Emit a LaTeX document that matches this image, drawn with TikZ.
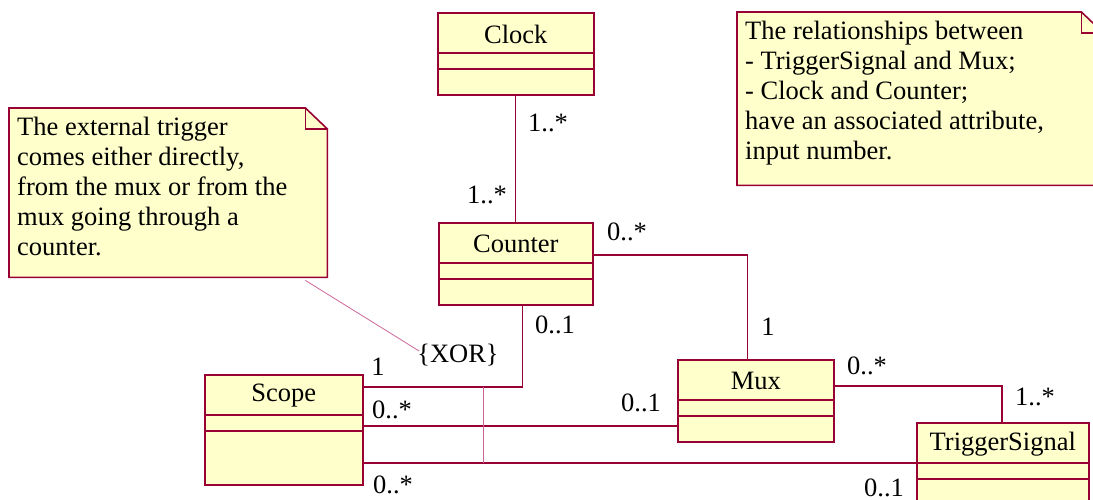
\documentclass[tikz,border=0pt]{standalone}
\usepackage{fontspec}
\setmainfont{Liberation Serif}
\usetikzlibrary{calc}
\definecolor{roseline}{RGB}{153,0,51}
\definecolor{rosefill}{RGB}{255,255,204}
\definecolor{roselink}{RGB}{204,102,153}
\newcommand{\rosefont}{\fontsize{26.5}{30}\selectfont}

\begin{document}
\begin{tikzpicture}[x=1pt,y=-1pt,
  classbox/.style={draw=roseline,fill=rosefill,line width=1.6pt,anchor=north west,inner sep=0pt},
  compartment/.style={draw=roseline,line width=1.6pt},
  assoc/.style={draw=roseline,line width=1.2pt},
  notelink/.style={draw=roselink,line width=0.8pt},
  mult/.style={font=\rosefont,inner sep=0pt},
  notetext/.style={font=\rosefont,align=left,anchor=north west,inner sep=0pt}]
  \useasboundingbox[fill=white] (0,0) rectangle (1093,500);

  % notes with a folded corner
  \node[anchor=north west,minimum width=318,minimum height=169,inner sep=0pt] (lnote) at (9,108) {};
  \node[anchor=north west,minimum width=366,minimum height=173,inner sep=0pt] (rnote) at (737,12) {};
  \foreach \n in {lnote,rnote} {
    \draw[classbox] (\n.north west) -- ($(\n.north east)+(-22,0)$) -- ($(\n.north east)+(0,21)$)
      -- (\n.south east) -- (\n.south west) -- cycle;
    \draw[compartment] ($(\n.north east)+(-22,0)$) -- ($(\n.north east)+(-22,21)$) -- ($(\n.north east)+(0,21)$);
  }
  \node[notetext] (lnote-text) at (17,117) {The external trigger\\comes either directly,\\from the mux or from the\\mux going through a\\counter.};
  \node[notetext] (rnote-text) at (745,21) {The relationships between\\- TriggerSignal and Mux;\\- Clock and Counter;\\have an associated attribute,\\input number.};

  % classes
  \node[classbox,minimum width=156,minimum height=82] (clock) at (437,12) {};
  \node[classbox,minimum width=154,minimum height=82] (counter) at (438,222) {};
  \node[classbox,minimum width=156,minimum height=82] (mux) at (677,359) {};
  \node[classbox,minimum width=158,minimum height=110] (scope) at (204,374) {};
  \node[classbox,minimum width=172,minimum height=90] (trig) at (916,422) {};
  \foreach \c/\t in {clock/Clock,counter/Counter,mux/Mux,scope/Scope,trig/TriggerSignal} {
    \node[mult] (\c-name) at ($(\c.north)+(0,22)$) {\t};
    \draw[compartment] ($(\c.north west)+(0,41)$) -- ($(\c.north east)+(0,41)$);
    \draw[compartment] ($(\c.north west)+(0,57)$) -- ($(\c.north east)+(0,57)$);
  }

  % associations
  \draw[assoc] (clock.south) -- (counter.north);
  \draw[assoc] ($(counter.north east)+(0,33)$) -| ($(mux.north)+(-8,0)$);
  \draw[assoc] ($(mux.north east)+(0,27)$) -| ($(trig.north west)+(86,0)$);
  \coordinate (sa) at ($(scope.north east)+(0,13)$);
  \draw[assoc] (sa) -| ($(counter.south)+(7,0)$);
  \draw[assoc] ($(scope.north east)+(0,52)$) -- ($(mux.north west)+(0,67)$);
  \draw[assoc] ($(scope.north east)+(0,89)$) -- coordinate[pos=0.2166] (sb) ($(trig.north west)+(0,41)$);

  % xor constraint
  \draw[notelink] (sb) -- (sb |- sa);
  \node[mult] (xor) at (458,355) {\{XOR\}};
  \draw[notelink] ($(lnote.south east)+(-22,3)$) -- ($(xor.west)+(2,-4)$);

  % multiplicities
  \node[mult] (m-clock) at (548,123) {1..*};
  \node[mult] (m-counter-up) at (487,195) {1..*};
  \node[mult] (m-counter-right) at (627,232) {0..*};
  \node[mult] (m-mux-up) at (768,327) {1};
  \node[mult] (m-counter-down) at (555,325) {0..1};
  \node[mult] (m-scope-a) at (378,367) {1};
  \node[mult] (m-scope-b) at (392,410) {0..*};
  \node[mult] (m-mux-left) at (641,403) {0..1};
  \node[mult] (m-mux-right) at (867,366) {0..*};
  \node[mult] (m-trig-up) at (1035,397) {1..*};
  \node[mult] (m-scope-c) at (393,485) {0..*};
  \node[mult] (m-trig-left) at (884,488) {0..1};
\end{tikzpicture}
\end{document}
